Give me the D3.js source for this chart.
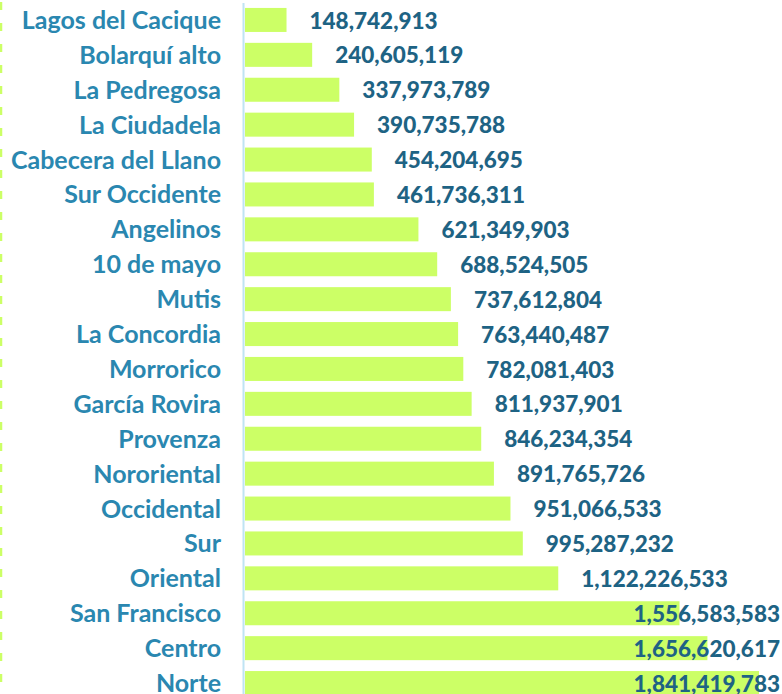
<html>
<head>
    <meta charset="utf-8">
    <script src="https://d3js.org/d3.v7.min.js"></script>
    <style>
        body { margin: 0; background: #fff; }
        .cat { font-family: Lato, sans-serif; font-weight: bold; fill: #2a87b0; }
        .val { font-family: Lato, sans-serif; font-weight: 900; fill: #1e6384; }
    </style>
</head>
<body>
    <svg width="782" height="694"></svg>
    <script>
        const comunas = ["Lagos del Cacique", "Bolarquí alto", "La Pedregosa", "La Ciudadela",
            "Cabecera del Llano", "Sur Occidente", "Angelinos", "10 de mayo", "Mutis",
            "La Concordia", "Morrorico", "García Rovira", "Provenza", "Nororiental",
            "Occidental", "Sur", "Oriental", "San Francisco", "Centro", "Norte"];

        const montos = [148742913, 240605119, 337973789, 390735788, 454204695, 461736311,
            621349903, 688524505, 737612804, 763440487, 782081403, 811937901, 846234354,
            891765726, 951066533, 995287232, 1122226533, 1556583583, 1656620617, 1841419783];

        const width = 782, height = 694;
        const left = 245;

        const svg = d3.select("svg");

        const data = comunas.map((c, i) => ({ name: c, value: montos[i] }));

        const x = d3.scaleLinear()
                    .domain([0, 1841419783])
                    .range([left, left + 514]);

        const y = d3.scaleBand()
                    .domain(comunas)
                    .range([2.5, 2.5 + 20 * 34.9])
                    .paddingInner(0.312)
                    .paddingOuter(0.156);

        // dashed line on left edge
        svg.append("line")
           .attr("x1", 1).attr("x2", 1)
           .attr("y1", 2).attr("y2", height)
           .attr("stroke", "#ccff66")
           .attr("stroke-width", 2.5)
           .attr("stroke-dasharray", "8,13");

        svg.selectAll(".bar")
           .data(data)
           .enter().append("rect")
           .attr("class", "bar")
           .attr("x", x(0))
           .attr("y", d => y(d.name))
           .attr("width", d => x(d.value) - x(0))
           .attr("height", y.bandwidth())
           .attr("fill", "#ccff66");

        // axis line
        svg.append("line")
           .attr("x1", 243.5).attr("x2", 243.5)
           .attr("y1", 3).attr("y2", height)
           .attr("stroke", "#bfe4f3")
           .attr("stroke-width", 2);

        svg.selectAll(".cat")
           .data(data)
           .enter().append("text")
           .attr("class", "cat")
           .attr("x", 221)
           .attr("y", d => y(d.name) + y.bandwidth() / 2)
           .attr("dy", "0.36em")
           .attr("text-anchor", "end")
           .attr("font-size", 25)
           .text(d => d.name);

        const fmt = d3.format(",");
        svg.selectAll(".val")
           .data(data)
           .enter().append("text")
           .attr("class", "val")
           .attr("y", d => y(d.name) + y.bandwidth() / 2)
           .attr("dy", "0.38em")
           .attr("font-size", 22.5)
           .text(d => fmt(d.value))
           .attr("x", function (d) {
               const w = this.getComputedTextLength();
               return Math.min(x(d.value) + 23, 780 - w);
           });
    </script>
</body>
</html>
